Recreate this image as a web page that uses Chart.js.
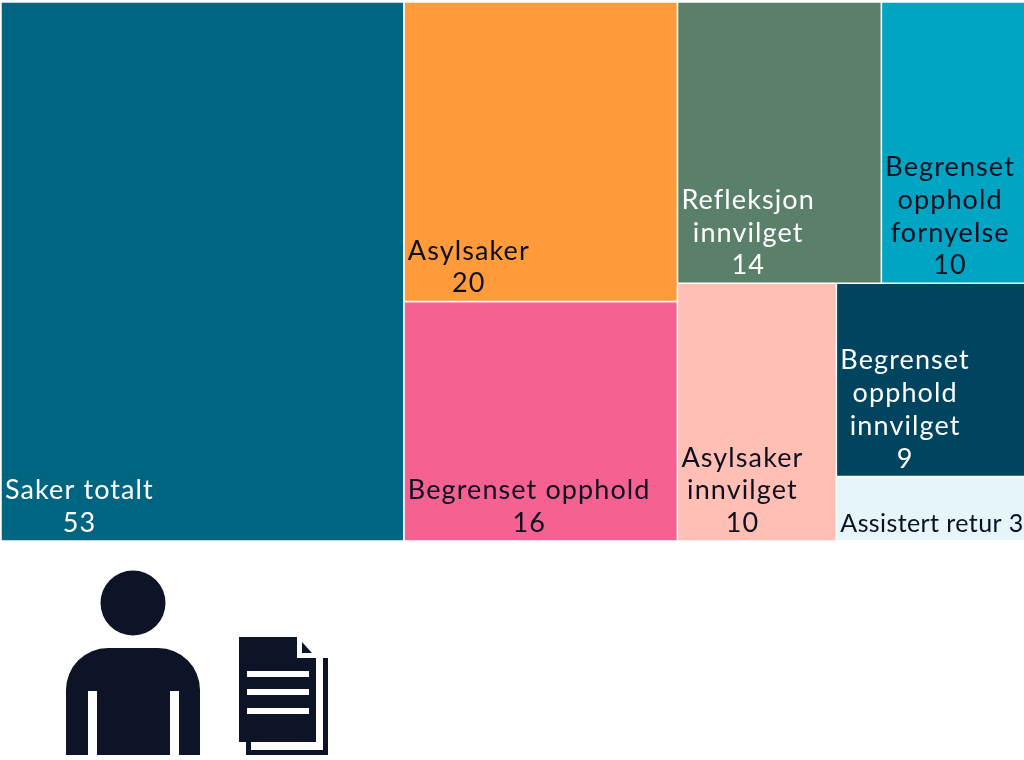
<!DOCTYPE html>
<html>
<head>
<meta charset="utf-8">
<style>
  body { margin: 0; background: #fff; overflow: hidden; }
  #wrap { position: relative; width: 1024px; height: 760px; overflow: hidden; }
  #icons { position: absolute; left: 0; top: 0; }
</style>
</head>
<body>
<div id="wrap">
  <canvas id="treeChart" width="1027" height="760"></canvas>
  <svg id="icons" width="1024" height="760" fill="#0e1428">
    <circle cx="133" cy="603" r="32.5"/>
    <path d="M66 755 V690 A42 42 0 0 1 108 648 H158 A42 42 0 0 1 200 690 V755 H179 V691 H170 V755 H97 V691 H88 V755 Z"/>
    <path d="M239 637 H297 V658 H316 V742 H239 Z"/>
    <path d="M302 642 L312 653 H302 Z"/>
    <path d="M323 658 H328 V755 H246 V742 H251 V750 H323 Z"/>
    <g fill="#fff">
      <rect x="247" y="671" width="62" height="6"/>
      <rect x="247" y="689" width="62" height="6"/>
      <rect x="247" y="708" width="62" height="6"/>
    </g>
  </svg>
</div>
<script src="https://cdn.jsdelivr.net/npm/chart.js@4"></script>
<script>
const categories = [
  "Saker totalt",
  "Asylsaker",
  "Begrenset opphold",
  "Refleksjon innvilget",
  "Begrenset opphold fornyelse",
  "Asylsaker innvilget",
  "Begrenset opphold innvilget",
  "Assistert retur"
];
const values = [53, 20, 16, 14, 10, 10, 9, 3];
const labelLines = [
  ["Saker totalt", "53"],
  ["Asylsaker", "20"],
  ["Begrenset opphold", "16"],
  ["Refleksjon", "innvilget", "14"],
  ["Begrenset", "opphold", "fornyelse", "10"],
  ["Asylsaker", "innvilget", "10"],
  ["Begrenset", "opphold", "innvilget", "9"],
  ["Assistert retur 3"]
];
const colors = ["#006580", "#ff9b3b", "#f56292", "#5a8069", "#00a5c3", "#ffbfb5", "#00445f", "#e6f5f7"];
const textColors = ["#fff", "#0c1020", "#0c1020", "#fff", "#0c1020", "#0c1020", "#fff", "#0c1020"];

// which cell goes with which, the direction flips on every level
const nesting = [0, [1, 2], [[3, 4], [5, [6, 7]]]];

function total(node) {
  return Array.isArray(node) ? node.reduce((s, n) => s + total(n), 0) : values[node];
}

const cells = [];
function split(node, x0, x1, y0, y1, across) {
  if (!Array.isArray(node)) {
    cells[node] = { x0, x1, y0, y1 };
    return;
  }
  const sum = total(node);
  let pos = across ? x0 : y0;
  node.forEach(n => {
    const part = total(n) / sum * (across ? x1 - x0 : y1 - y0);
    if (across) split(n, pos, pos + part, y0, y1, false);
    else split(n, x0, x1, pos, pos + part, true);
    pos += part;
  });
}
const sumAll = total(nesting);
split(nesting, 0, sumAll, 0, 1, true);

const labelPlugin = {
  id: 'cellLabels',
  afterDatasetsDraw(chart) {
    const ctx = chart.ctx, xs = chart.scales.x, ys = chart.scales.y;
    ctx.save();
    ctx.textAlign = 'center';
    ctx.textBaseline = 'alphabetic';
    labelLines.forEach((lines, i) => {
      const c = cells[i];
      const small = lines.length === 1;
      ctx.font = (small ? 25 : 27) + 'px Lato';
      ctx.letterSpacing = small ? '0.4px' : '1.1px';
      ctx.fillStyle = textColors[i];
      const widest = Math.max(...lines.map(l => ctx.measureText(l).width));
      const mid = xs.getPixelForValue(c.x0) + 4 + widest / 2;
      const bottom = ys.getPixelForValue(c.y1) - 9;
      lines.forEach((line, k) => {
        ctx.fillText(line, mid, bottom - (lines.length - 1 - k) * 32.7);
      });
    });
    ctx.restore();
  }
};

new Chart(document.getElementById('treeChart'), {
  type: 'scatter',
  data: {
    datasets: categories.map((name, i) => {
      const c = cells[i];
      return {
        label: name,
        showLine: true,
        fill: 'shape',
        backgroundColor: colors[i],
        borderColor: '#fff',
        borderWidth: 1.5,
        pointRadius: 0,
        clip: false,
        data: [
          { x: c.x0, y: c.y0 },
          { x: c.x1, y: c.y0 },
          { x: c.x1, y: c.y1 },
          { x: c.x0, y: c.y1 },
          { x: c.x0, y: c.y0 }
        ]
      };
    })
  },
  options: {
    responsive: false,
    animation: false,
    events: [],
    layout: { padding: { left: 1, top: 2, right: 0, bottom: 219 } },
    plugins: { legend: { display: false }, tooltip: { enabled: false } },
    scales: {
      x: { type: 'linear', display: false, min: 0, max: sumAll },
      y: { type: 'linear', display: false, min: 0, max: 1, reverse: true }
    }
  },
  plugins: [labelPlugin]
});
</script>
</body>
</html>
